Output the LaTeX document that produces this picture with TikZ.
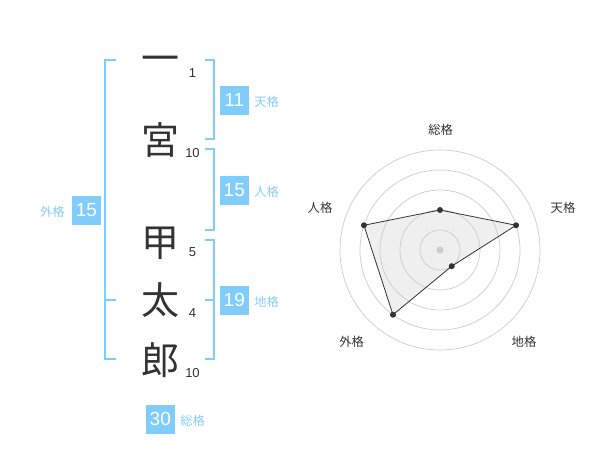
\documentclass[tikz,border=0pt]{standalone}
\usepackage{fontspec}
\setmainfont{Noto Sans CJK JP}
\newfontfamily\numfont{Liberation Sans}
\usetikzlibrary{positioning}
\definecolor{kakublue}{HTML}{80CCFA}
\definecolor{kakutext}{HTML}{88CDF6}
\definecolor{ink}{HTML}{333333}
\definecolor{ring}{HTML}{CCCCCC}
\definecolor{area}{HTML}{EFEFEF}

\begin{document}
\begin{tikzpicture}[x=1pt,y=-1pt,
    kanji/.style={anchor=base,inner sep=0,text=ink,font=\fontsize{38}{38}\selectfont},
    strokes/.style={anchor=base,inner sep=0,text=ink,font=\numfont\fontsize{13}{13}\selectfont},
    kakubox/.style={fill=kakublue,text=white,minimum size=28.7pt,inner sep=0,font=\numfont\fontsize{19}{19}\selectfont},
    kakulabel/.style={inner sep=0,text=kakutext,font=\fontsize{12.3}{12.3}\selectfont},
    bracket/.style={draw=kakublue,line width=2pt},
    axislabel/.style={inner sep=0,text=ink,font=\fontsize{12.3}{12.3}\selectfont},
    dot/.style={circle,fill=ink,inner sep=0,minimum size=6pt}]
  \useasboundingbox (0,0) rectangle (600,470);

  % name and stroke counts
  \node[kanji] (k1) at (160,72.4) {一};
  \node[kanji] (k2) at (160,154.4) {宮};
  \node[kanji] (k3) at (160,256.1) {甲};
  \node[kanji] (k4) at (160,314.4) {太};
  \node[kanji] (k5) at (160,374.4) {郎};
  \node[strokes] (s1) at (192.5,78) {1};
  \node[strokes] (s2) at (192.5,157.4) {10};
  \node[strokes] (s3) at (192.5,257) {5};
  \node[strokes] (s4) at (192.5,317.4) {4};
  \node[strokes] (s5) at (192.5,377.4) {10};

  % brackets
  \draw[bracket] (205,60) -| (214.3,139.3) -- (205,139.3);
  \draw[bracket] (205,149.3) -| (214.3,230) -- (205,230);
  \draw[bracket] (205,240) -| (214.3,359.3) -- (205,359.3);
  \draw[bracket] (205,300) -- (214.3,300);
  \draw[bracket] (115.7,60) -| (105,359.3) -- (115.7,359.3);
  \draw[bracket] (105,300) -- (115.7,300);

  % kaku boxes
  \node[kakubox] (ten) at (234.3,100.3) {11};
  \node[kakubox] (jin) at (234.3,190.3) {15};
  \node[kakubox] (chi) at (234.3,300.3) {19};
  \node[kakubox] (gai) at (86.5,210.3) {15};
  \node[kakubox] (sou) at (160.3,419.3) {30};
  \node[kakulabel,base right=5.3pt of ten] {天格};
  \node[kakulabel,base right=5.3pt of jin] {人格};
  \node[kakulabel,base right=5.3pt of chi] {地格};
  \node[kakulabel,base left=7pt of gai] {外格};
  \node[kakulabel,base right=5.3pt of sou] {総格};

  % radar chart
  \begin{scope}[shift={(440,250)},y=1pt]
    \coordinate (o) at (0,0);
    \coordinate (p1) at (90:40);
    \coordinate (p2) at (18:80);
    \coordinate (p3) at (-54:20);
    \coordinate (p4) at (-126:80);
    \coordinate (p5) at (162:80);
    \fill[area] (p1) -- (p2) -- (p3) -- (p4) -- (p5) -- cycle;
    \foreach \r in {20,40,60,80,100}
      \draw[ring,line width=0.7pt] (o) circle (\r);
    \fill[ring] (o) circle (3.5);
    \draw[ink,line width=0.8pt] (p1) -- (p2) -- (p3) -- (p4) -- (p5) -- cycle;
    \foreach \p in {p1,p2,p3,p4,p5}
      \node[dot] at (\p) {};
    \node[axislabel] (a1) at (0.7,120) {総格};
    \node[axislabel] (a2) at (123,42) {天格};
    \node[axislabel] (a3) at (84,-91.7) {地格};
    \node[axislabel] (a4) at (-88.3,-91.7) {外格};
    \node[axislabel] (a5) at (-120,42) {人格};
  \end{scope}
\end{tikzpicture}
\end{document}
